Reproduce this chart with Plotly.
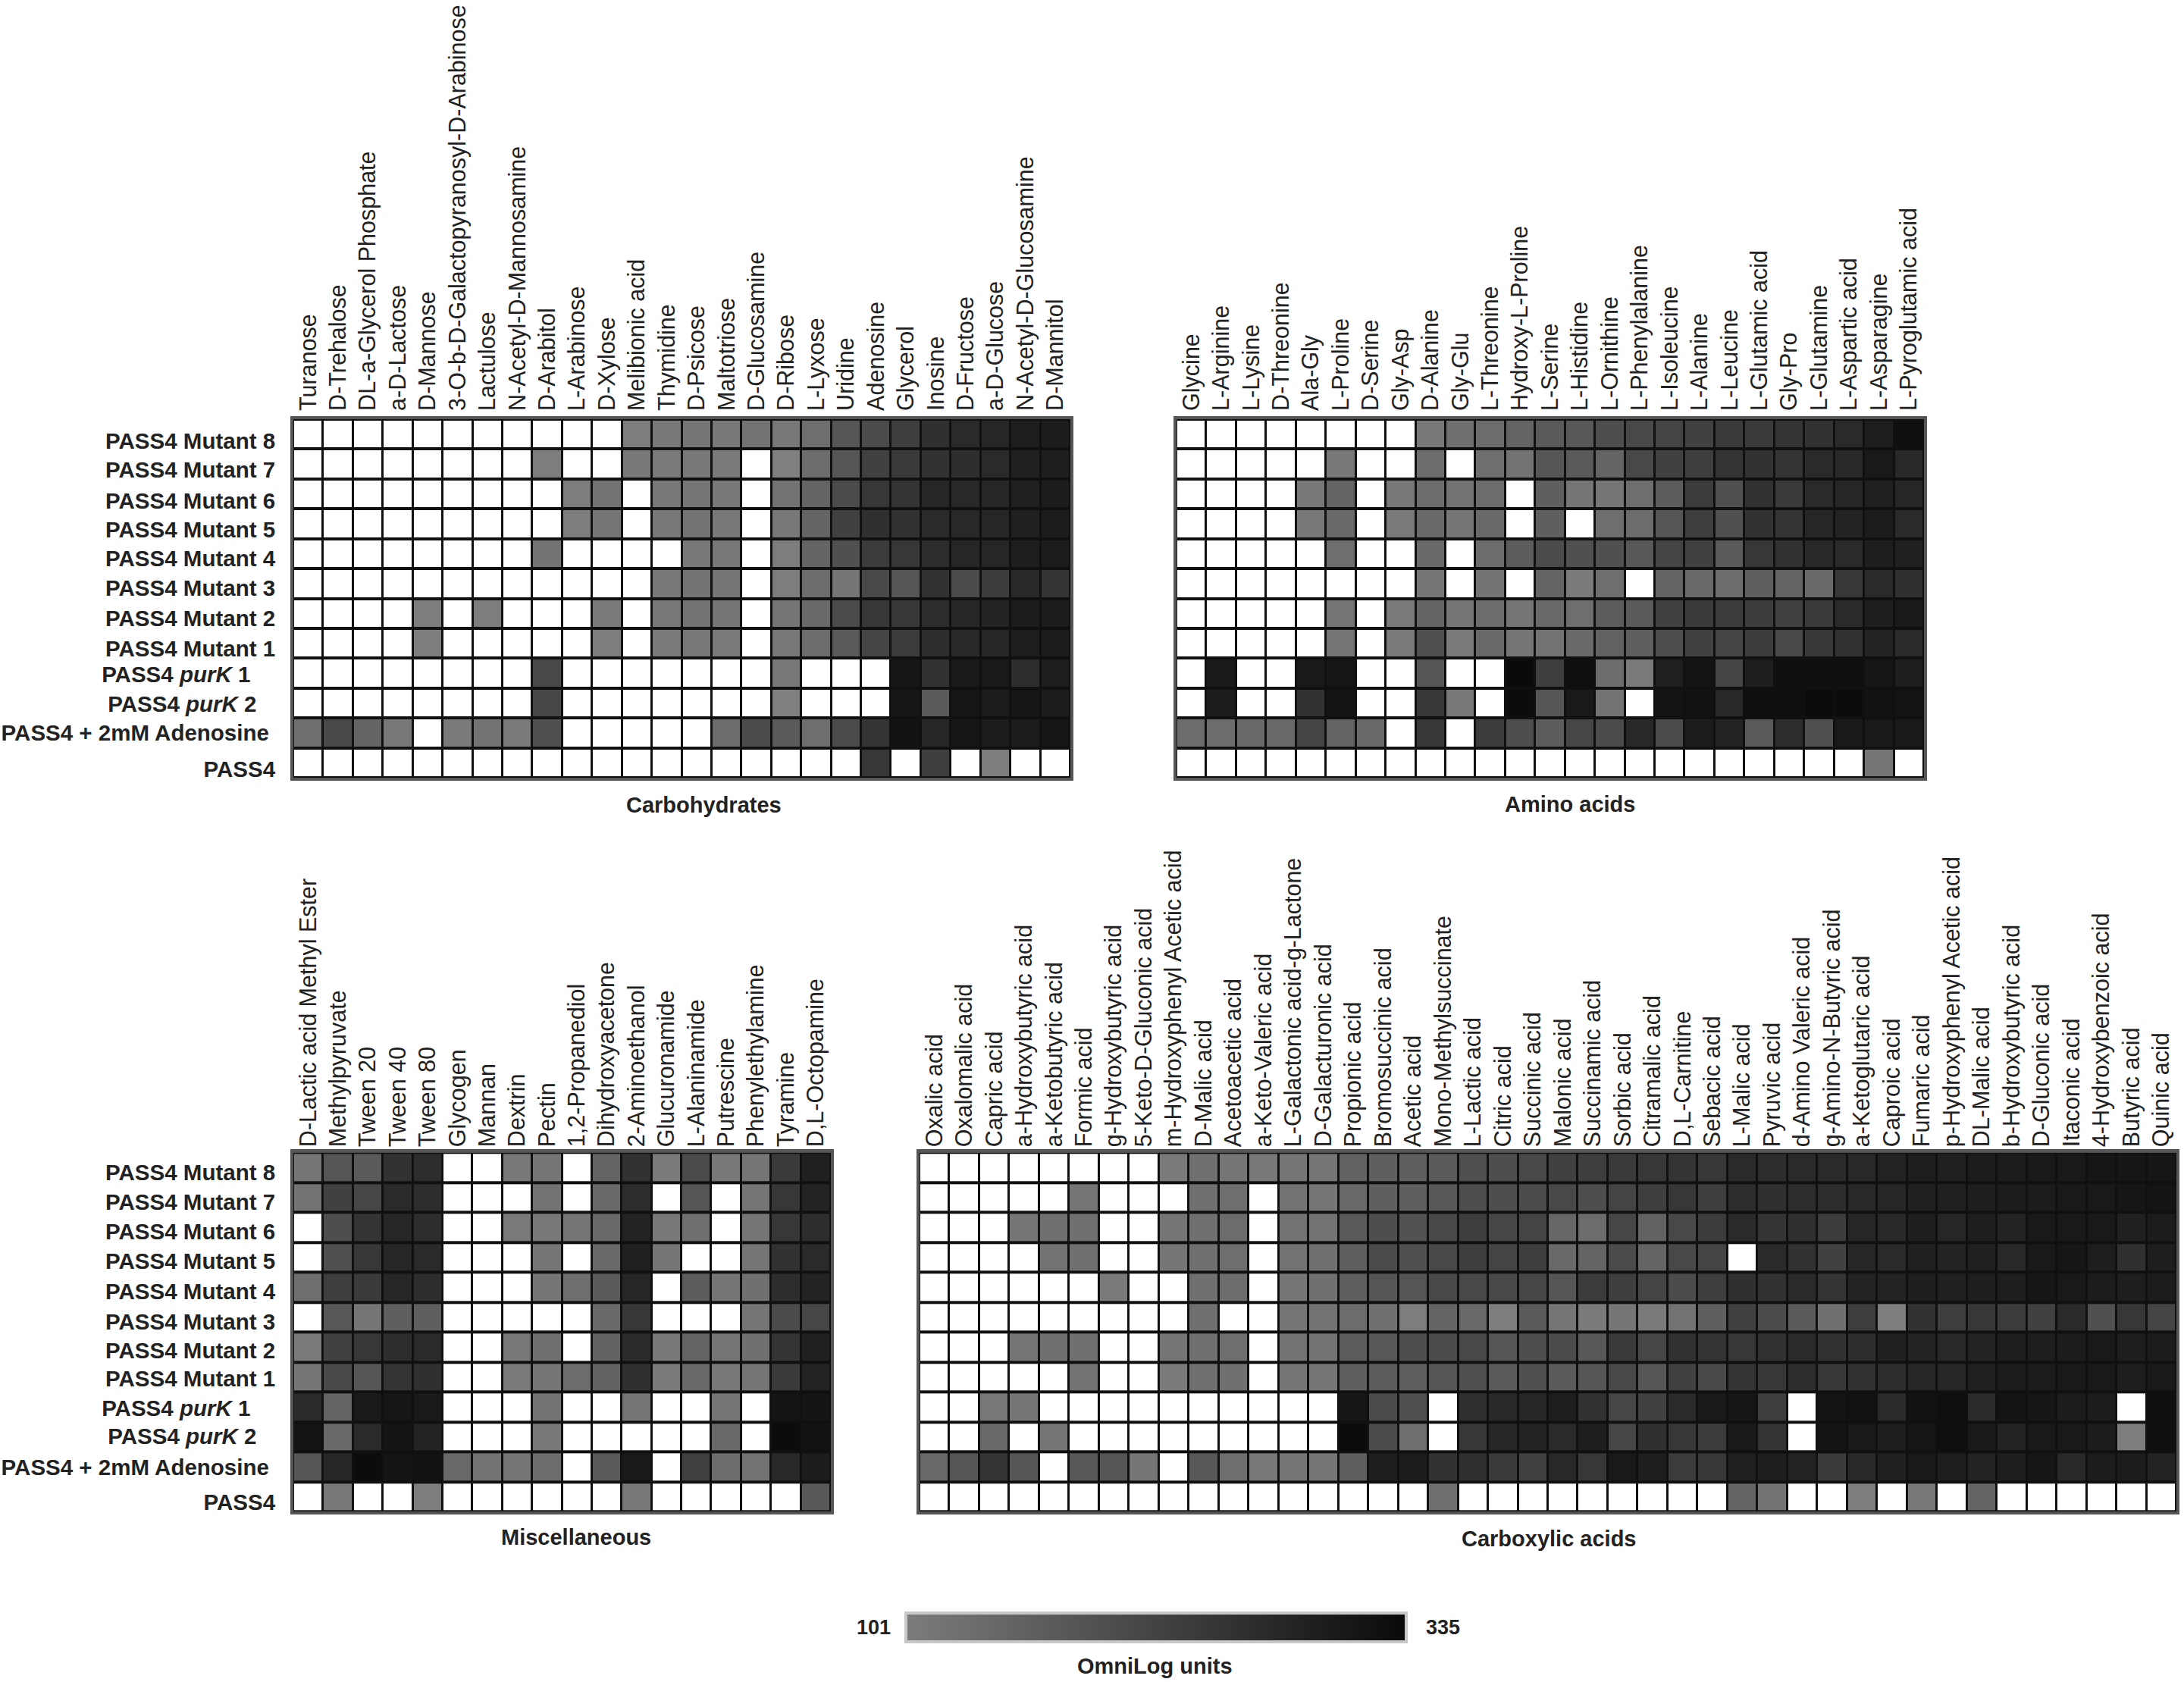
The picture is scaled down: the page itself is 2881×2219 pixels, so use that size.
import plotly.graph_objects as go

W = 0  # no measurable response (drawn white)
ZMAX = 335
ZMIN = 101

STRAINS = ["PASS4 Mutant 8", "PASS4 Mutant 7", "PASS4 Mutant 6", "PASS4 Mutant 5", "PASS4 Mutant 4",
           "PASS4 Mutant 3", "PASS4 Mutant 2", "PASS4 Mutant 1",
           "PASS4 <i>purK</i> 1\u00a0\u00a0\u00a0\u00a0", "PASS4 <i>purK</i> 2\u00a0\u00a0\u00a0",
           "PASS4 + 2mM Adenosine\u00a0", "PASS4"]
ROW_TICKS_TOP = [0.23, 1.2, 2.22, 3.2, 4.17, 5.15, 6.15, 7.17, 8.03, 9.02, 9.99, 11.2]
ROW_TICKS_BOTTOM = [0.17, 1.15, 2.15, 3.12, 4.15, 5.15, 6.12, 7.04, 8.04, 8.97, 10.02, 11.17]

CARB_LABELS = ["Turanose", "D-Trehalose", "DL-a-Glycerol Phosphate", "a-D-Lactose", "D-Mannose",
               "3-O-b-D-Galactopyranosyl-D-Arabinose", "Lactulose", "N-Acetyl-D-Mannosamine", "D-Arabitol",
               "L-Arabinose", "D-Xylose", "Melibionic acid", "Thymidine", "D-Psicose", "Maltotriose",
               "D-Glucosamine", "D-Ribose", "L-Lyxose", "Uridine", "Adenosine", "Glycerol", "Inosine",
               "D-Fructose", "a-D-Glucose", "N-Acetyl-D-Glucosamine", "D-Mannitol"]
CARB = [
    [W,W,W,W,W,W,W,W,W,W,W,107,117,121,117,127,117,137,186,206,232,259,271,279,295,299],
    [W,W,W,W,W,W,W,W,107,W,W,117,113,117,113,W,101,141,186,226,240,255,265,271,291,295],
    [W,W,W,W,W,W,W,W,W,107,127,W,117,121,117,W,127,156,206,246,251,279,275,279,291,299],
    [W,W,W,W,W,W,W,W,W,107,121,W,117,127,117,W,117,156,226,259,255,271,275,279,291,299],
    [W,W,W,W,W,W,W,W,127,W,W,W,W,117,117,W,107,156,196,236,246,265,279,279,295,299],
    [W,W,W,W,W,W,W,W,W,W,W,W,117,127,121,W,107,141,121,212,186,255,206,236,275,251],
    [W,W,W,W,107,W,107,W,W,W,113,W,117,127,121,W,121,147,206,246,246,265,279,285,299,299],
    [W,W,W,W,107,W,W,W,W,W,107,W,113,117,113,W,117,141,176,220,236,265,275,279,295,299],
    [W,W,W,W,W,W,W,W,212,W,W,W,W,W,W,W,117,W,W,W,311,255,305,305,265,295],
    [W,W,W,W,W,W,W,W,216,W,W,W,W,W,W,W,101,W,W,W,311,176,311,299,311,299],
    [137,212,156,117,W,113,127,113,196,W,W,W,W,W,141,206,176,137,206,251,319,279,311,299,299,311],
    [W,W,W,W,W,W,W,W,W,W,W,W,W,W,W,W,W,W,W,246,W,232,W,107,W,W],
]

AMINO_LABELS = ["Glycine", "L-Arginine", "L-Lysine", "D-Threonine", "Ala-Gly", "L-Proline", "D-Serine", "Gly-Asp",
                "D-Alanine", "Gly-Glu", "L-Threonine", "Hydroxy-L-Proline", "L-Serine", "L-Histidine", "L-Ornithine",
                "L-Phenylalanine", "L-Isoleucine", "L-Alanine", "L-Leucine", "L-Glutamic acid", "Gly-Pro",
                "L-Glutamine", "L-Aspartic acid", "L-Asparagine", "L-Pyroglutamic acid"]
AMINO = [
    [W,W,W,W,W,W,W,W,117,133,141,156,176,180,200,212,220,226,240,240,251,255,271,295,325],
    [W,W,W,W,W,117,W,W,141,W,137,127,186,176,156,212,226,232,251,255,251,271,275,305,275],
    [W,W,W,W,117,156,W,117,141,127,141,W,166,121,121,137,172,236,196,255,240,271,279,291,279],
    [W,W,W,W,117,147,W,113,147,121,147,W,166,W,137,141,186,232,196,255,251,279,285,299,271],
    [W,W,W,W,W,137,W,W,147,W,141,172,206,196,196,180,220,226,176,246,255,275,271,295,291],
    [W,W,W,W,W,W,W,W,121,W,127,W,156,113,137,W,156,147,141,166,156,147,246,271,259],
    [W,W,W,W,W,121,W,113,156,121,141,121,147,137,172,176,226,240,236,236,226,240,271,295,305],
    [W,W,W,W,W,121,W,113,196,113,147,121,127,147,160,166,200,226,220,236,212,246,255,285,271],
    [W,305,W,W,305,311,W,W,186,W,W,335,232,325,141,113,291,315,220,295,325,325,325,311,295],
    [W,299,W,W,255,315,W,W,246,117,W,331,186,305,127,W,315,319,275,325,325,331,331,319,315],
    [141,141,147,147,220,156,147,W,246,W,236,200,172,216,206,275,206,299,285,176,265,196,305,305,305],
    [W,W,W,W,W,W,W,W,W,W,W,W,W,W,W,W,W,W,W,W,W,W,W,121,W],
]

MISC_LABELS = ["D-Lactic acid Methyl Ester", "Methylpyruvate", "Tween 20", "Tween 40", "Tween 80", "Glycogen", "Mannan",
               "Dextrin", "Pectin", "1,2-Propanediol", "Dihydroxyacetone", "2-Aminoethanol", "Glucuronamide",
               "L-Alaninamide", "Putrescine", "Phenylethylamine", "Tyramine", "D,L-Octopamine"]
MISC = [
    [121,186,176,255,265,W,W,117,121,W,156,255,113,206,117,121,240,291],
    [127,226,216,271,265,W,W,W,127,W,147,265,W,186,W,121,246,285],
    [W,200,251,279,265,W,W,113,117,121,147,285,117,133,W,121,246,265],
    [W,196,246,279,271,W,W,W,121,W,147,291,121,W,W,121,255,271],
    [137,232,240,279,265,W,W,W,121,137,176,279,W,172,121,133,265,285],
    [W,180,121,166,166,W,W,W,W,W,147,246,W,W,W,121,206,216],
    [113,226,246,265,271,W,W,117,133,W,160,271,117,156,121,133,251,291],
    [121,212,186,251,259,W,W,113,121,141,160,259,113,147,117,121,240,285],
    [271,156,305,311,305,W,W,W,127,W,W,121,W,W,121,W,315,315],
    [315,147,271,315,285,W,W,W,117,W,W,W,W,W,147,W,331,319],
    [186,279,331,315,319,147,127,121,141,W,176,305,W,226,141,127,275,299],
    [W,117,W,W,107,W,W,W,W,W,W,117,W,W,W,W,W,180],
]

ACID_LABELS = ["Oxalic acid", "Oxalomalic acid", "Capric acid", "a-Hydroxybutyric acid", "a-Ketobutyric acid", "Formic acid",
               "g-Hydroxybutyric acid", "5-Keto-D-Gluconic acid", "m-Hydroxyphenyl Acetic acid", "D-Malic acid",
               "Acetoacetic acid", "a-Keto-Valeric acid", "L-Galactonic acid-g-Lactone", "D-Galacturonic acid",
               "Propionic acid", "Bromosuccinic acid", "Acetic acid", "Mono-Methylsuccinate", "L-Lactic acid", "Citric acid",
               "Succinic acid", "Malonic acid", "Succinamic acid", "Sorbic acid", "Citramalic acid", "D,L-Carnitine",
               "Sebacic acid", "L-Malic acid", "Pyruvic acid", "d-Amino Valeric acid", "g-Amino-N-Butyric acid",
               "a-Ketoglutaric acid", "Caproic acid", "Fumaric acid", "p-Hydroxyphenyl Acetic acid", "DL-Malic acid",
               "b-Hydroxybutyric acid", "D-Gluconic acid", "Itaconic acid", "4-Hydroxybenzoic acid", "Butyric acid", "Quinic acid"]
ACID = [
    [W,W,W,W,W,W,W,W,113,133,121,117,121,121,160,166,166,176,196,200,212,226,232,240,246,251,246,271,265,271,271,275,285,295,291,299,299,305,305,311,311,311],
    [W,W,W,W,W,121,W,W,W,133,137,W,127,121,147,166,166,180,200,200,206,212,200,220,232,246,232,265,259,265,265,275,279,291,291,295,299,299,305,305,311,315],
    [W,W,W,121,133,133,W,W,121,133,141,W,127,127,176,200,192,212,232,216,220,152,141,216,160,212,236,271,251,259,236,279,275,295,279,295,285,305,305,305,291,299],
    [W,W,W,W,127,133,W,W,121,133,137,W,127,133,166,206,196,212,232,220,232,147,156,206,156,212,220,W,271,255,226,279,271,291,285,291,275,305,311,295,259,295],
    [W,W,W,W,W,W,113,W,W,133,141,W,121,133,166,186,186,212,212,212,216,186,236,232,220,206,232,259,255,271,251,285,285,295,291,295,295,311,305,299,295,299],
    [W,W,W,W,W,W,W,W,W,133,W,W,121,127,141,133,107,156,147,107,176,121,113,121,113,127,166,226,206,176,133,232,107,255,232,246,236,226,271,196,246,220],
    [W,W,W,121,133,133,W,W,121,133,137,W,127,127,172,180,200,206,212,186,200,206,180,240,216,255,251,246,255,271,255,265,291,285,275,285,295,295,299,305,295,299],
    [W,W,W,W,W,127,W,W,113,133,133,W,121,121,166,172,166,186,196,176,196,176,186,212,186,226,212,251,246,265,246,255,265,279,279,291,299,299,305,305,295,305],
    [W,W,117,121,W,W,W,W,W,W,W,W,W,W,311,206,196,W,259,275,279,295,255,216,226,271,305,311,232,W,315,319,271,319,325,271,315,311,299,299,W,325],
    [W,W,147,W,121,W,W,W,W,W,W,W,W,W,331,206,137,W,246,279,285,271,295,216,259,246,236,305,251,W,315,305,295,311,325,305,285,305,305,299,107,325],
    [147,186,251,186,W,180,186,121,W,180,137,117,121,121,166,295,299,255,259,240,226,275,246,305,295,236,246,291,295,285,240,275,291,305,295,285,295,311,275,299,299,285],
    [W,W,W,W,W,W,W,W,W,W,W,W,W,W,W,W,W,137,W,W,W,W,W,W,W,W,W,156,127,W,W,107,W,117,W,156,W,W,W,W,W,W],
]

SCALE_ENDS = [ZMIN, ZMAX]
FONT = "Liberation Sans, Arial, sans-serif"
TW, TH = 2881, 2219

def px(x):
    return x / TW

def py(y):
    return 1 - y / TH

LO = (ZMIN - 1) / ZMAX
COLORSCALE = [[0, "#ffffff"], [LO, "#ffffff"], [ZMIN / ZMAX, "#808080"], [1, "#0a0a0a"]]

PANELS = [
    ("", CARB, CARB_LABELS, 387, 1412, 554, 1028, ROW_TICKS_TOP, True, 1),
    ("2", AMINO, AMINO_LABELS, 1552, 2538, 554, 1028, None, False, 1),
    ("3", MISC, MISC_LABELS, 387, 1096, 1523, 1998, ROW_TICKS_BOTTOM, True, -3),
    ("4", ACID, ACID_LABELS, 1213, 2871, 1523, 1998, None, False, -3),
]
TITLES = [("Carbohydrates", 928, 1064), ("Amino acids", 2071, 1063), ("Miscellaneous", 760, 2032), ("Carboxylic acids", 2043, 2034)]

fig = go.Figure()
layout = dict(width=TW, height=TH, margin=dict(l=0, r=0, t=0, b=0), paper_bgcolor="white", showlegend=False,
              plot_bgcolor="#101010", font=dict(family=FONT, color="#1a1a1a"))

for suffix, z, labels, x0, x1, y0, y1, ticks, show_rows, standoff in PANELS:
    fig.add_trace(go.Heatmap(z=z, x=list(range(len(labels))), y=list(range(12)), colorscale=COLORSCALE,
                             zmin=0, zmax=ZMAX, showscale=False, xgap=3, ygap=4,
                             xaxis="x" + suffix, yaxis="y" + suffix, hoverinfo="skip"))
    layout["xaxis" + suffix] = dict(domain=[px(x0), px(x1)], anchor="y" + suffix, side="top", range=[-0.5, len(labels) - 0.5],
                                    tickmode="array", tickvals=list(range(len(labels))), ticktext=labels, tickangle=-90,
                                    tickfont=dict(family=FONT, size=30.5, color="#222222"), ticks="", ticklabelstandoff=standoff,
                                    showgrid=False, zeroline=False, showline=True, mirror=True, linecolor="#555555", linewidth=4)
    layout["yaxis" + suffix] = dict(domain=[py(y1), py(y0)], anchor="x" + suffix, range=[11.5, -0.5],
                                    tickmode="array", tickvals=ticks if show_rows else [], ticktext=STRAINS if show_rows else [],
                                    showticklabels=show_rows, tickfont=dict(family=FONT, size=29.5, color="#222222", weight=700),
                                    ticks="", ticklabelstandoff=14, showgrid=False, zeroline=False,
                                    showline=True, mirror=True, linecolor="#555555", linewidth=4)

# Scale legend: a real Plotly colour bar, carried by an empty marker trace
fig.add_trace(go.Scatter(x=[None, None], y=[None, None], mode="markers", hoverinfo="skip",
                         marker=dict(color=SCALE_ENDS, colorscale=[[0, "#7c7c7c"], [1, "#0a0a0a"]], cmin=ZMIN, cmax=ZMAX, showscale=True,
                                     colorbar=dict(orientation="h", lenmode="pixels", len=660, thicknessmode="pixels", thickness=38,
                                                   x=px(1195), xanchor="left", y=py(2174), yanchor="bottom", xpad=0, ypad=0,
                                                   outlinecolor="#c8c8c8", outlinewidth=4, ticks="", showticklabels=False))))

ann = []
for text, x, y in TITLES:
    ann.append(dict(text=text, x=px(x), y=py(y), xref="paper", yref="paper", showarrow=False, xanchor="center", yanchor="middle",
                    font=dict(family=FONT, size=29, color="#222222", weight=700)))
for text, x, y, size in [(str(ZMIN), 1152, 2151, 27), (str(ZMAX), 1903, 2151, 27), ("OmniLog units", 1523, 2202, 29)]:
    ann.append(dict(text=text, x=px(x), y=py(y), xref="paper", yref="paper", showarrow=False, xanchor="center", yanchor="middle",
                    font=dict(family=FONT, size=size, color="#222222", weight=700)))
layout["annotations"] = ann
fig.update_layout(**layout)
fig.write_html("out.html", config={"displayModeBar": False}, post_script="document.body.style.margin='0';")
